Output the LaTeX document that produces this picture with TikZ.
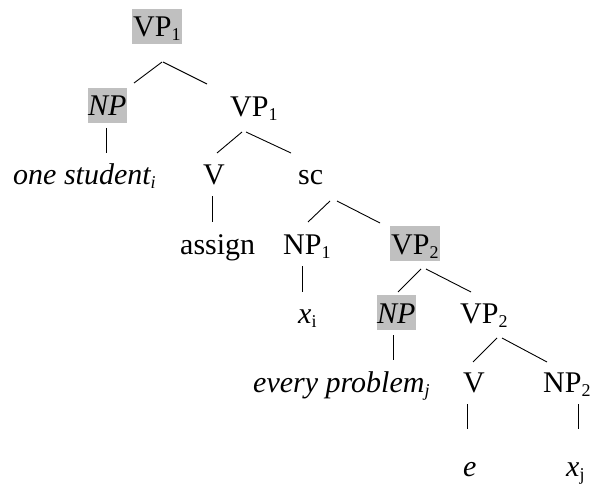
\documentclass[tikz,border=0pt]{standalone}
\usepackage{fontspec}
\setmainfont{Liberation Serif}
\definecolor{hlgray}{RGB}{192,192,192}
\newcommand{\sbs}[1]{\raisebox{-4pt}{\fontsize{18}{18}\selectfont #1}}
\begin{document}
\begin{tikzpicture}[x=1pt,y=1pt,
  lbl/.style={anchor=base west,inner sep=0pt,font=\fontsize{30}{36}\selectfont},
  hl/.style={lbl,fill=hlgray,text height=28pt,text depth=7pt,inner xsep=1pt},
  br/.style={line width=0.9pt,black}]
\useasboundingbox (0,0) rectangle (590,-487);
% level 1
\node[hl] (root) at (132,-37) {VP\sbs{1}};
% level 2
\node[hl,inner xsep=0pt] (npA) at (88,-116) {\textit{NP}\hspace{12pt}};
\node[lbl] (vpA) at (230,-117) {VP\sbs{1}};
% level 3
\node[lbl] (os) at (13,-185) {\textit{one student\sbs{i}}};
\node[lbl] (vA) at (203,-185) {V};
\node[lbl] (sc) at (298,-185) {sc};
% level 4
\node[lbl] (assign) at (180,-254) {assign};
\node[lbl] (npB) at (283,-254) {NP\sbs{1}};
\node[hl] (vpB) at (390,-254) {VP\sbs{2}};
% level 5
\node[lbl] (xi) at (298,-323) {\textit{x}\sbs{i}};
\node[hl,inner xsep=0pt] (npC) at (377,-323) {\textit{NP}};
\node[lbl] (vpC) at (460,-323) {VP\sbs{2}};
% level 6
\node[lbl] (ep) at (253,-392) {\textit{every problem\sbs{j}}};
\node[lbl] (vB) at (463,-392) {V};
\node[lbl] (npD) at (543,-392) {NP\sbs{2}};
% level 7
\node[lbl] (e) at (463,-476) {\textit{e}};
\node[lbl] (xj) at (566,-476) {\textit{x}\sbs{j}};
% branch end points
\coordinate (r0l) at (162,-62);  \coordinate (r1l) at (134,-83);
\coordinate (r0r) at (163,-62);  \coordinate (r1r) at (207,-84);
\coordinate (n0) at (106,-128);  \coordinate (n1) at (106,-153);
\coordinate (a0l) at (242,-132); \coordinate (a1l) at (217,-153);
\coordinate (a0r) at (246,-132); \coordinate (a1r) at (291,-153);
\coordinate (v0) at (212,-196);  \coordinate (v1) at (212,-222);
\coordinate (s0l) at (330,-201); \coordinate (s1l) at (308,-222);
\coordinate (s0r) at (337,-201); \coordinate (s1r) at (380,-223);
\coordinate (p0) at (302,-266);  \coordinate (p1) at (302,-292);
\coordinate (b0l) at (421,-269); \coordinate (b1l) at (398,-292);
\coordinate (b0r) at (426,-269); \coordinate (b1r) at (471,-292);
\coordinate (q0) at (393,-335);  \coordinate (q1) at (393,-360);
\coordinate (c0l) at (497,-338); \coordinate (c1l) at (473,-362);
\coordinate (c0r) at (502,-338); \coordinate (c1r) at (547,-362);
\coordinate (w0) at (467,-404);  \coordinate (w1) at (467,-429);
\coordinate (z0) at (578,-404);  \coordinate (z1) at (578,-429);
\draw[br] (r0l) -- (r1l);
\draw[br] (r0r) -- (r1r);
\draw[br] (n0) -- (n1);
\draw[br] (a0l) -- (a1l);
\draw[br] (a0r) -- (a1r);
\draw[br] (v0) -- (v1);
\draw[br] (s0l) -- (s1l);
\draw[br] (s0r) -- (s1r);
\draw[br] (p0) -- (p1);
\draw[br] (b0l) -- (b1l);
\draw[br] (b0r) -- (b1r);
\draw[br] (q0) -- (q1);
\draw[br] (c0l) -- (c1l);
\draw[br] (c0r) -- (c1r);
\draw[br] (w0) -- (w1);
\draw[br] (z0) -- (z1);
\end{tikzpicture}
\end{document}
